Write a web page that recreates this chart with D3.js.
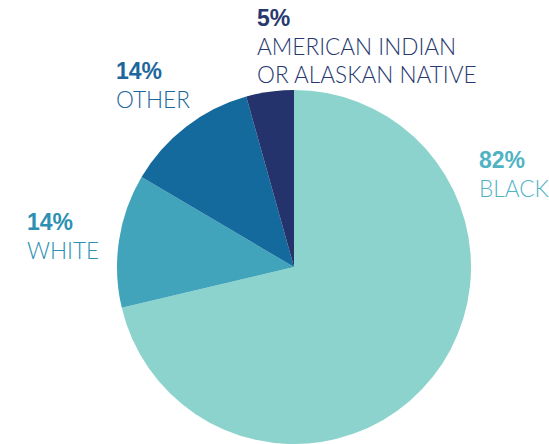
<!DOCTYPE html>
<html>
<head>
<meta charset="utf-8">
<script src="https://cdn.jsdelivr.net/npm/d3@7"></script>
<style>
  html, body { margin: 0; padding: 0; background: #fff; }
  svg { display: block; }
  .pct { font-family: "Liberation Sans", Arial, sans-serif; font-weight: 700; font-size: 23px; }
  .name { font-family: Lato, "Open Sans", sans-serif; font-weight: 300; font-size: 22.6px; }
</style>
</head>
<body>
<svg id="chart" width="549" height="444"></svg>
<script>
// Race / ethnicity shares, in drawing order (clockwise from 12 o'clock)
const categories = ["BLACK", "WHITE", "OTHER", "AMERICAN INDIAN\nOR ALASKAN NATIVE"];
const values = [82, 14, 14, 5];
const sliceColors = ["#8dd3cd", "#42a4bb", "#156a9d", "#24336b"];
const textColors = ["#4fb3c4", "#2d90b2", "#1d679c", "#27386f"];
// label anchor (left x, baseline of the percentage line)
const labelPos = [[479, 168], [27, 230], [116, 79], [257, 26]];

const svg = d3.select("#chart");
const cx = 294, cy = 267, r = 177;

const pie = d3.pie().sort(null).value(d => d);
const arc = d3.arc().innerRadius(0).outerRadius(r);

svg.append("g")
  .attr("transform", `translate(${cx},${cy})`)
  .selectAll("path")
  .data(pie(values))
  .join("path")
  .attr("d", arc)
  .attr("fill", (d, i) => sliceColors[i]);

const labels = svg.append("g")
  .selectAll("text")
  .data(categories)
  .join("text")
  .attr("x", (d, i) => labelPos[i][0])
  .attr("y", (d, i) => labelPos[i][1])
  .attr("fill", (d, i) => textColors[i]);

labels.append("tspan")
  .attr("class", "pct")
  .text((d, i) => values[i] + "%");

labels.each(function(d, i) {
  const t = d3.select(this);
  d.split("\n").forEach((line, k) => {
    t.append("tspan")
      .attr("class", "name")
      .attr("x", labelPos[i][0])
      .attr("dy", k === 0 ? 29 : 28)
      .text(line);
  });
});
</script>
</body>
</html>
